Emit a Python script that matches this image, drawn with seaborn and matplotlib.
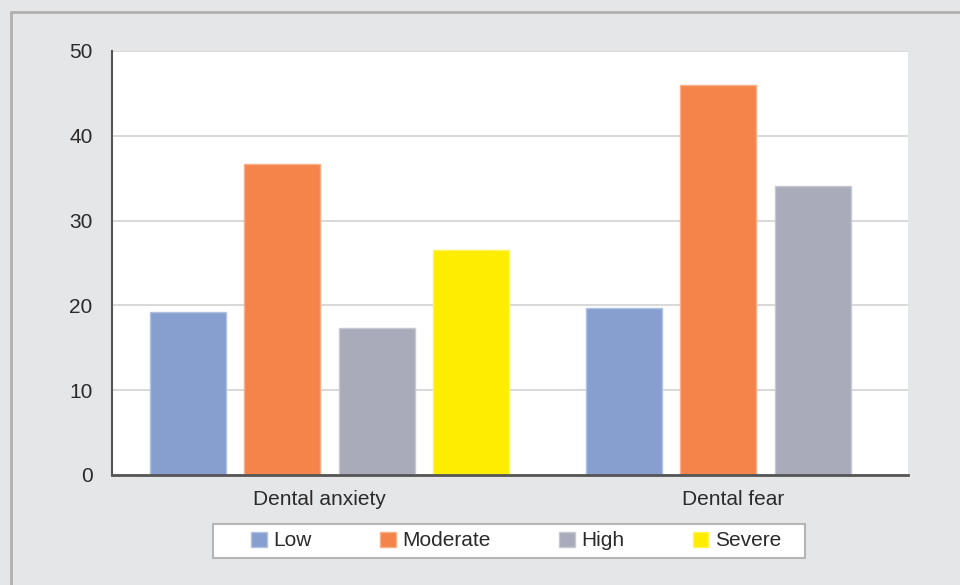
import numpy as np
import pandas as pd
import seaborn as sns
import matplotlib.pyplot as plt
from matplotlib.patches import Rectangle
from matplotlib.lines import Line2D

# Survey results (% of respondents) by severity level
measures = ["Dental anxiety", "Dental fear"]
levels = ["Low", "Moderate", "High", "Severe"]
anxiety_pct = [19.2, 36.7, 17.3, 26.5]
fear_pct = [19.7, 46.0, 34.1, np.nan]
level_colors = ["#879fcf", "#f4844a", "#a9abba", "#ffed00"]
y_ticks = [0, 10, 20, 30, 40, 50]

df = pd.DataFrame({
    "measure": [m for m in measures for _ in levels],
    "level": levels * len(measures),
    "percent": anxiety_pct + fear_pct,
})

sns.set_theme(style="white")
plt.rcParams["font.family"] = ["Liberation Sans", "DejaVu Sans"]

W, H = 960, 585
fig = plt.figure(figsize=(W / 100, H / 100), dpi=100, facecolor="#e5e6e8")

# outer panel border (left and top edges)
fig.add_artist(Line2D([11 / W, 11 / W], [0, 1 - 12 / H], color="#b0b0b0", lw=2,
                      transform=fig.transFigure))
fig.add_artist(Line2D([11 / W, 1], [1 - 12 / H, 1 - 12 / H], color="#b0b0b0", lw=2,
                      transform=fig.transFigure))

ax = fig.add_axes([112 / W, 1 - 475 / H, 796 / W, 424 / H])
ax.set_facecolor("white")

sns.barplot(data=df, x="measure", y="percent", hue="level",
            order=measures, hue_order=levels, palette=level_colors,
            width=0.867, gap=0.196, saturation=1, errorbar=None, ax=ax)

# thin lighter outline on each bar
for p in ax.patches:
    r, g, b, a = p.get_facecolor()
    p.set_edgecolor((r + (1 - r) * 0.35, g + (1 - g) * 0.35, b + (1 - b) * 0.35, 1))
    p.set_linewidth(1.0)

ax.set_xlim(-0.499, 1.327)
ax.set_ylim(0, 50)
ax.set_yticks(y_ticks)
ax.set_xticks([-0.024, 0.925], measures)
ax.set_xlabel("")
ax.set_ylabel("")

ax.yaxis.grid(True, color="#d6d6d6", lw=1.3)
ax.set_axisbelow(True)
for side in ("top", "right"):
    ax.spines[side].set_visible(False)
ax.spines["left"].set_color("#555555")
ax.spines["left"].set_linewidth(1.5)
ax.spines["bottom"].set_color("#555555")
ax.spines["bottom"].set_linewidth(2.0)

ax.tick_params(axis="y", length=0, labelsize=15, labelcolor="#2b2b2b", pad=14)
ax.tick_params(axis="x", length=0, labelsize=15, labelcolor="#2b2b2b", pad=11)

# legend in a white box below the chart
handles, labels = ax.get_legend_handles_labels()
if ax.get_legend() is not None:
    ax.get_legend().remove()
fig.add_artist(Rectangle((213 / W, 1 - 558 / H), 592 / W, 34 / H,
                         transform=fig.transFigure, facecolor="white",
                         edgecolor="#b5b5b5", lw=1.5))
fig.legend(handles, labels, loc="center", bbox_to_anchor=(516 / W, 1 - 541 / H),
           ncol=4, frameon=False, fontsize=15, labelcolor="#2b2b2b",
           handlelength=0.75, handleheight=0.75, handletextpad=0.3,
           columnspacing=3.3)

fig.savefig("out.png", dpi=100, facecolor=fig.get_facecolor())
